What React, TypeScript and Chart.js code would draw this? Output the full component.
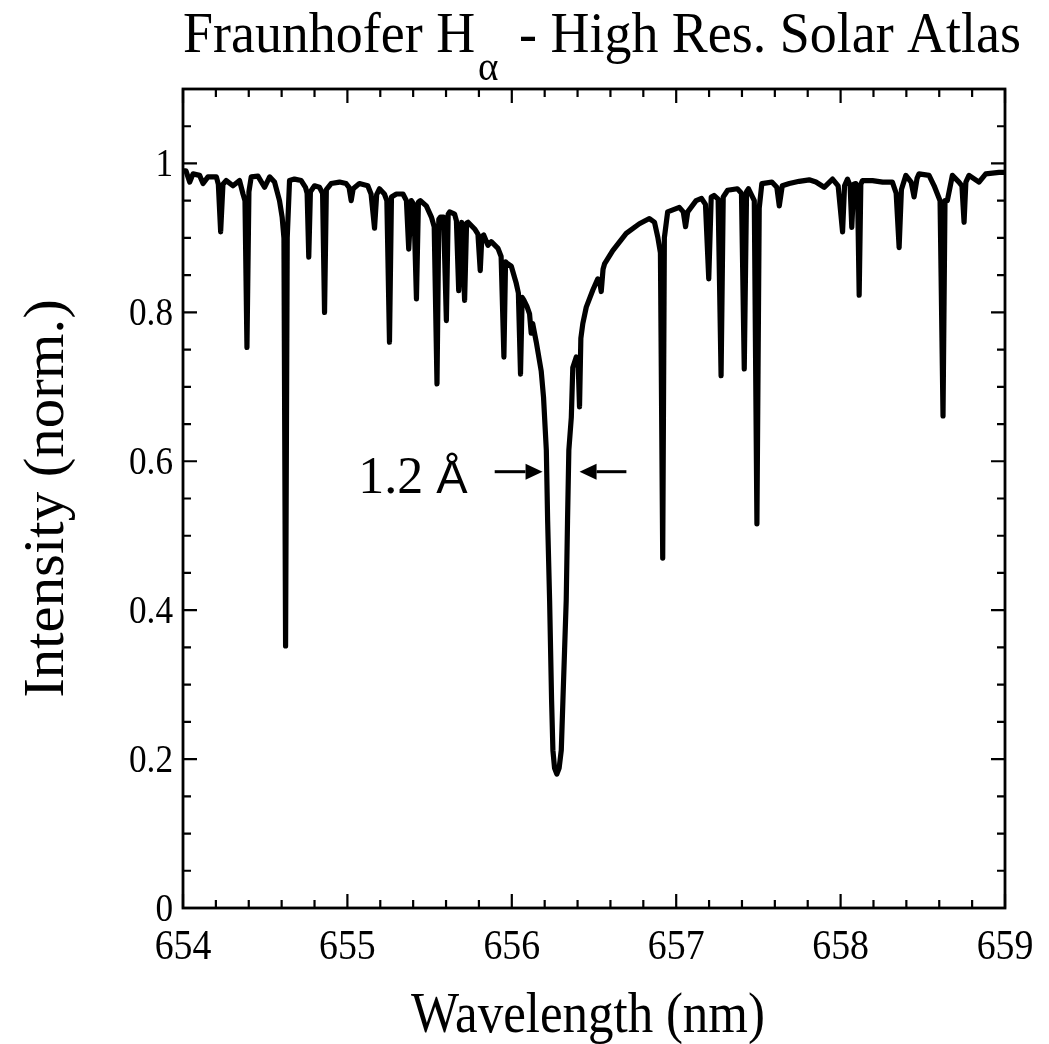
import { useEffect, useRef } from "react";
import { Chart, registerables } from "chart.js";

Chart.register(...registerables);

// ---- Data ----
const wavelengthNm = [
  654.000, 654.018, 654.041, 654.061, 654.101, 654.122, 654.152, 654.203, 654.215, 654.229,
  654.243, 654.263, 654.304, 654.344, 654.365, 654.377, 654.389, 654.401, 654.415, 654.456,
  654.496, 654.527, 654.557, 654.587, 654.603, 654.614, 654.624, 654.634, 654.648, 654.678,
  654.719, 654.745, 654.755, 654.765, 654.775, 654.800, 654.830, 654.849, 654.861, 654.872,
  654.901, 654.952, 654.992, 655.010, 655.023, 655.035, 655.073, 655.124, 655.144, 655.165,
  655.178, 655.195, 655.225, 655.240, 655.256, 655.268, 655.298, 655.338, 655.359, 655.373,
  655.389, 655.404, 655.420, 655.432, 655.444, 655.480, 655.511, 655.528, 655.545, 655.556,
  655.566, 655.585, 655.602, 655.613, 655.622, 655.652, 655.663, 655.677, 655.695, 655.713,
  655.725, 655.734, 655.774, 655.794, 655.808, 655.818, 655.829, 655.855, 655.875, 655.916,
  655.935, 655.952, 655.962, 655.970, 655.997, 656.027, 656.040, 656.053, 656.063, 656.072,
  656.092, 656.108, 656.118, 656.127, 656.149, 656.179, 656.193, 656.210, 656.218, 656.230,
  656.242, 656.250, 656.260, 656.274, 656.288, 656.301, 656.311, 656.321, 656.331, 656.339,
  656.347, 656.362, 656.371, 656.392, 656.403, 656.412, 656.420, 656.432, 656.453, 656.493,
  656.523, 656.534, 656.544, 656.555, 656.564, 656.614, 656.696, 656.776, 656.837, 656.868,
  656.888, 656.904, 656.918, 656.928, 656.948, 657.019, 657.043, 657.057, 657.070, 657.121,
  657.154, 657.178, 657.198, 657.213, 657.230, 657.255, 657.273, 657.286, 657.313, 657.372,
  657.397, 657.414, 657.428, 657.440, 657.475, 657.491, 657.505, 657.521, 657.582, 657.612,
  657.627, 657.645, 657.688, 657.748, 657.809, 657.850, 657.900, 657.951, 657.985, 658.012,
  658.024, 658.042, 658.058, 658.068, 658.080, 658.093, 658.103, 658.113, 658.123, 658.133,
  658.194, 658.256, 658.315, 658.338, 658.356, 658.370, 658.397, 658.429, 658.447, 658.465,
  658.477, 658.538, 658.569, 658.605, 658.623, 658.635, 658.649, 658.680, 658.720, 658.738,
  658.751, 658.762, 658.781, 658.842, 658.883, 658.964, 659.000,
];

const intensityNorm = [
  0.990, 0.990, 0.975, 0.986, 0.984, 0.973, 0.982, 0.982, 0.972, 0.908,
  0.972, 0.977, 0.970, 0.977, 0.959, 0.950, 0.753, 0.962, 0.982, 0.983,
  0.968, 0.982, 0.975, 0.950, 0.928, 0.900, 0.352, 0.900, 0.977, 0.979,
  0.977, 0.968, 0.960, 0.874, 0.962, 0.970, 0.968, 0.960, 0.800, 0.965,
  0.973, 0.975, 0.973, 0.968, 0.950, 0.966, 0.973, 0.970, 0.959, 0.913,
  0.958, 0.966, 0.959, 0.950, 0.760, 0.955, 0.959, 0.959, 0.950, 0.885,
  0.950, 0.945, 0.818, 0.948, 0.950, 0.943, 0.928, 0.915, 0.704, 0.925,
  0.928, 0.928, 0.789, 0.932, 0.935, 0.932, 0.923, 0.829, 0.921, 0.816,
  0.920, 0.921, 0.912, 0.905, 0.856, 0.902, 0.904, 0.890, 0.895, 0.886,
  0.875, 0.740, 0.868, 0.866, 0.862, 0.839, 0.826, 0.717, 0.820, 0.817,
  0.808, 0.798, 0.772, 0.785, 0.760, 0.721, 0.686, 0.615, 0.520, 0.413,
  0.279, 0.212, 0.188, 0.180, 0.188, 0.212, 0.279, 0.346, 0.413, 0.520,
  0.615, 0.659, 0.726, 0.740, 0.735, 0.673, 0.765, 0.785, 0.807, 0.830,
  0.845, 0.842, 0.828, 0.858, 0.865, 0.883, 0.906, 0.919, 0.926, 0.921,
  0.901, 0.880, 0.470, 0.900, 0.935, 0.941, 0.935, 0.915, 0.935, 0.950,
  0.953, 0.945, 0.845, 0.955, 0.957, 0.952, 0.715, 0.955, 0.964, 0.966,
  0.960, 0.724, 0.962, 0.966, 0.950, 0.516, 0.940, 0.973, 0.975, 0.968,
  0.943, 0.970, 0.973, 0.976, 0.978, 0.975, 0.968, 0.979, 0.970, 0.908,
  0.970, 0.979, 0.970, 0.914, 0.972, 0.973, 0.965, 0.823, 0.972, 0.977,
  0.977, 0.975, 0.975, 0.960, 0.887, 0.965, 0.984, 0.975, 0.955, 0.980,
  0.986, 0.984, 0.970, 0.950, 0.661, 0.950, 0.950, 0.984, 0.975, 0.970,
  0.921, 0.975, 0.984, 0.975, 0.986, 0.988, 0.988,
];

const xMajorTicks = [654, 655, 656, 657, 658, 659];
const xTickLabels = ["654", "655", "656", "657", "658", "659"];
const xMinorTicks = [
  654.2, 654.4, 654.6, 654.8, 655.2, 655.4, 655.6, 655.8, 656.2, 656.4,
  656.6, 656.8, 657.2, 657.4, 657.6, 657.8, 658.2, 658.4, 658.6, 658.8,
];
const yMajorTicks = [0, 0.2, 0.4, 0.6, 0.8, 1];
const yTickLabels = ["0", "0.2", "0.4", "0.6", "0.8", "1"];
const yMinorTicks = [
  0.05, 0.1, 0.15, 0.25, 0.3, 0.35, 0.45, 0.5, 0.55, 0.65, 0.7, 0.75, 0.85, 0.9, 0.95, 1.05,
];

const titleMain = "Fraunhofer H";
const titleSub = "\u03b1";
const titleRest = " - High Res. Solar Atlas";
const xAxisTitle = "Wavelength (nm)";
const yAxisTitle = "Intensity (norm.)";

// FWHM annotation (data units: nm, normalised intensity)
const fwhmValue = "1.2";
const fwhmUnit = "\u00c5";
const fwhmLabelAt = [655.731, 0.557];
const fwhmLeftArrow = [655.896, 656.187];
const fwhmRightArrow = [656.697, 656.412];
const fwhmArrowY = 0.586;

const SERIF = "'Liberation Serif', 'Times New Roman', serif";
const SANS = "'Liberation Sans', Arial, sans-serif";

function drawText(
  ctx: CanvasRenderingContext2D,
  text: string,
  x: number,
  y: number,
  font: string,
  sx: number,
  align: CanvasTextAlign,
  rotate = 0
) {
  ctx.save();
  ctx.translate(x, y);
  if (rotate) ctx.rotate(rotate);
  ctx.scale(sx, 1);
  ctx.font = font;
  ctx.textAlign = align;
  ctx.textBaseline = "alphabetic";
  ctx.fillStyle = "#000";
  ctx.fillText(text, 0, 0);
  ctx.restore();
}

function arrow(ctx: CanvasRenderingContext2D, x0: number, x1: number, y: number) {
  const dir = Math.sign(x1 - x0);
  const head = 17;
  const half = 8;
  ctx.save();
  ctx.strokeStyle = "#000";
  ctx.fillStyle = "#000";
  ctx.lineWidth = 3;
  ctx.beginPath();
  ctx.moveTo(x0, y);
  ctx.lineTo(x1 - dir * head, y);
  ctx.stroke();
  ctx.beginPath();
  ctx.moveTo(x1, y);
  ctx.lineTo(x1 - dir * head, y - half);
  ctx.lineTo(x1 - dir * head, y + half);
  ctx.closePath();
  ctx.fill();
  ctx.restore();
}

const framePlugin = {
  id: "framePlugin",
  afterDraw(chart: any) {
    const ctx: CanvasRenderingContext2D = chart.ctx;
    const { left, right, top, bottom } = chart.chartArea;
    const xs = chart.scales.x;
    const ys = chart.scales.y;
    ctx.save();
    ctx.strokeStyle = "#000";
    ctx.lineWidth = 2.8;
    ctx.strokeRect(left, top, right - left, bottom - top);

    ctx.lineWidth = 2.2;
    ctx.beginPath();
    const major = 14;
    const minor = 8;
    for (const v of xMajorTicks) {
      const p = xs.getPixelForValue(v);
      ctx.moveTo(p, bottom); ctx.lineTo(p, bottom - major);
      ctx.moveTo(p, top); ctx.lineTo(p, top + major);
    }
    for (const v of xMinorTicks) {
      const p = xs.getPixelForValue(v);
      ctx.moveTo(p, bottom); ctx.lineTo(p, bottom - minor);
      ctx.moveTo(p, top); ctx.lineTo(p, top + minor);
    }
    for (const v of yMajorTicks) {
      const p = ys.getPixelForValue(v);
      ctx.moveTo(left, p); ctx.lineTo(left + major, p);
      ctx.moveTo(right, p); ctx.lineTo(right - major, p);
    }
    for (const v of yMinorTicks) {
      const p = ys.getPixelForValue(v);
      ctx.moveTo(left, p); ctx.lineTo(left + minor, p);
      ctx.moveTo(right, p); ctx.lineTo(right - minor, p);
    }
    ctx.stroke();
    ctx.restore();

    // tick labels
    xMajorTicks.forEach((v, i) => {
      drawText(ctx, xTickLabels[i], xs.getPixelForValue(v), bottom + 51, `42px ${SERIF}`, 0.9, "center");
    });
    yMajorTicks.forEach((v, i) => {
      drawText(ctx, yTickLabels[i], left - 10, ys.getPixelForValue(v) + 13, `40px ${SERIF}`, 0.88, "right");
    });

    // axis titles
    const cx = (left + right) / 2;
    const cy = (top + bottom) / 2;
    drawText(ctx, xAxisTitle, cx - 6, bottom + 124, `56px ${SERIF}`, 0.91, "center");
    drawText(ctx, yAxisTitle, 63, cy, `56px ${SERIF}`, 1.05, "center", -Math.PI / 2);

    // main title with subscript alpha
    const tFont = `58px ${SERIF}`;
    const tsx = 0.93;
    const sFont = `42px ${SERIF}`;
    ctx.save();
    ctx.font = tFont;
    const w1 = ctx.measureText(titleMain).width * tsx;
    ctx.font = sFont;
    const w2 = ctx.measureText(titleSub).width * 0.93;
    ctx.restore();
    const tx = left;
    drawText(ctx, titleMain, tx, 52, tFont, tsx, "left");
    drawText(ctx, titleSub, tx + w1 + 3, 80, sFont, 0.93, "left");
    drawText(ctx, titleRest, tx + w1 + w2 + 10, 52, tFont, tsx, "left");

    // FWHM annotation
    const ly = ys.getPixelForValue(fwhmArrowY);
    arrow(ctx, xs.getPixelForValue(fwhmLeftArrow[0]), xs.getPixelForValue(fwhmLeftArrow[1]), ly);
    arrow(ctx, xs.getPixelForValue(fwhmRightArrow[0]), xs.getPixelForValue(fwhmRightArrow[1]), ly);
    const lx = xs.getPixelForValue(fwhmLabelAt[0]);
    const lby = ys.getPixelForValue(fwhmLabelAt[1]);
    ctx.save();
    ctx.font = `47px ${SANS}`;
    const wu = ctx.measureText(fwhmUnit).width;
    ctx.restore();
    drawText(ctx, fwhmUnit, lx, lby, `47px ${SANS}`, 1, "right");
    drawText(ctx, fwhmValue + " ", lx - wu, lby, `52px ${SERIF}`, 1, "right");
  },
};

export default function App() {
  const ref = useRef<HTMLCanvasElement | null>(null);
  useEffect(() => {
    document.body.style.margin = "0";
    const canvas = ref.current;
    if (!canvas) return;
    const points = wavelengthNm.map((x, i) => ({ x, y: intensityNorm[i] }));
    const chart = new Chart(canvas, {
      type: "line",
      data: {
        datasets: [
          {
            data: points,
            borderColor: "#000",
            borderWidth: 5.2,
            pointRadius: 0,
            tension: 0,
            fill: false,
            borderJoinStyle: "round",
            borderCapStyle: "round",
          },
        ],
      },
      options: {
        animation: false,
        responsive: false,
        maintainAspectRatio: false,
        layout: { padding: { left: 183, right: 44, top: 89, bottom: 136 } },
        plugins: {
          legend: { display: false },
          tooltip: { enabled: false },
          title: { display: false },
        },
        scales: {
          x: { type: "linear", min: 654, max: 659, display: false },
          y: { type: "linear", min: 0, max: 1.1, display: false },
        },
      },
      plugins: [framePlugin],
    });
    return () => chart.destroy();
  }, []);
  return (
    <div style={{ width: 1049, height: 1044, background: "#fff" }}>
      <canvas ref={ref} width={1049} height={1044} style={{ display: "block" }} />
    </div>
  );
}
